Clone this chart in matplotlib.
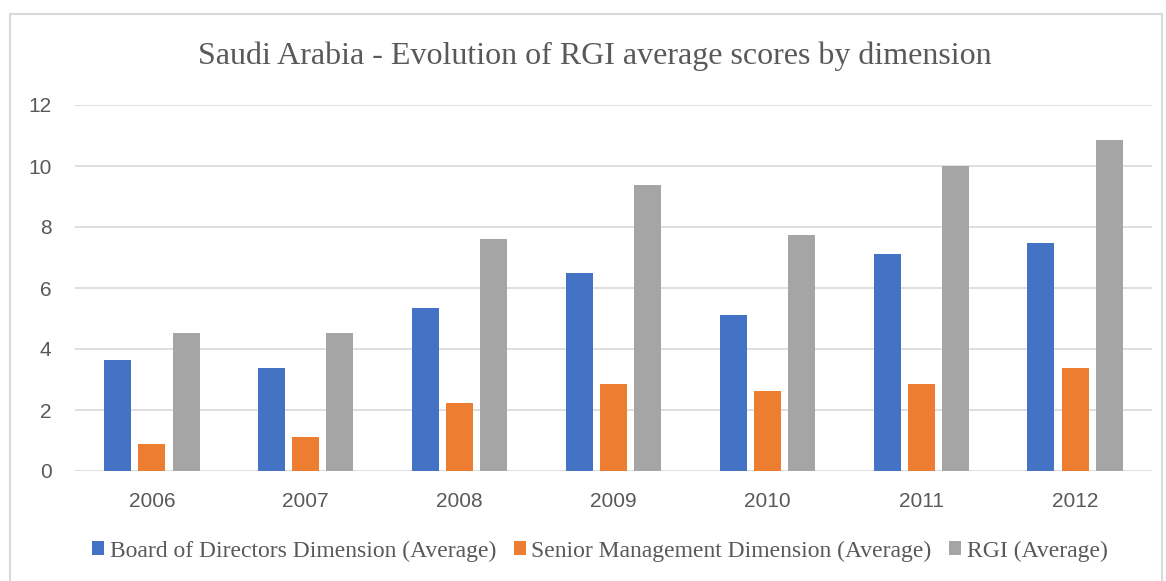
import matplotlib
matplotlib.use("Agg")
import matplotlib.pyplot as plt
import numpy as np
from matplotlib.patches import Rectangle

years = ["2006", "2007", "2008", "2009", "2010", "2011", "2012"]
board = [3.63, 3.37, 5.36, 6.49, 5.11, 7.12, 7.48]
senior = [0.88, 1.13, 2.23, 2.85, 2.61, 2.85, 3.37]
rgi = [4.51, 4.51, 7.61, 9.38, 7.74, 10.01, 10.86]
series_names = ["Board of Directors Dimension (Average)",
                "Senior Management Dimension (Average)",
                "RGI (Average)"]
colors = ["#4472C4", "#ED7D31", "#A5A5A5"]

fig = plt.figure(figsize=(11.66, 5.81), dpi=100)
ax = fig.add_axes([75/1166, 1-471/581, (1152-75)/1166, (471-105)/581])

x = np.arange(len(years))
w = 0.175
off = 0.222
for i, (vals, name, c) in enumerate(zip([board, senior, rgi], series_names, colors)):
    ax.bar(x + (i-1)*off, vals, width=w, color=c, label=name, zorder=3)

ax.set_xlim(-0.5, len(years)-0.5)
ax.set_ylim(0, 12)
ax.set_yticks(range(0, 13, 2))
ax.set_xticks(x)
ax.set_xticklabels(years)
ax.grid(axis="y", color="#d9d9d9", linewidth=1.2, zorder=0)
for s in ax.spines.values():
    s.set_visible(False)
ax.tick_params(length=0, labelsize=15, labelcolor="#595959")
ax.tick_params(axis="x", pad=15)
ax.tick_params(axis="y", pad=17)
for lab in ax.get_xticklabels() + ax.get_yticklabels():
    lab.set_fontfamily("Liberation Sans")

fig.text(595/1166, 1-56/581, "Saudi Arabia - Evolution of RGI average scores by dimension",
         ha="center", va="center", fontsize=23, color="#595959", fontfamily="Liberation Serif")

leg = fig.legend(loc="center", bbox_to_anchor=(600/1166, 1-551/581), ncol=3, frameon=False,
                 prop={"family": "Liberation Serif", "size": 17},
                 handlelength=0.5, handleheight=0.5, handletextpad=0.25, columnspacing=0.75)
for t in leg.get_texts():
    t.set_color("#595959")

fig.patches.append(Rectangle((10/1166, -0.05), (1162-10)/1166, 1.05-14/581,
                             transform=fig.transFigure, fill=False, edgecolor="#d9d9d9", linewidth=1.5))

fig.savefig("out.png", dpi=100)
